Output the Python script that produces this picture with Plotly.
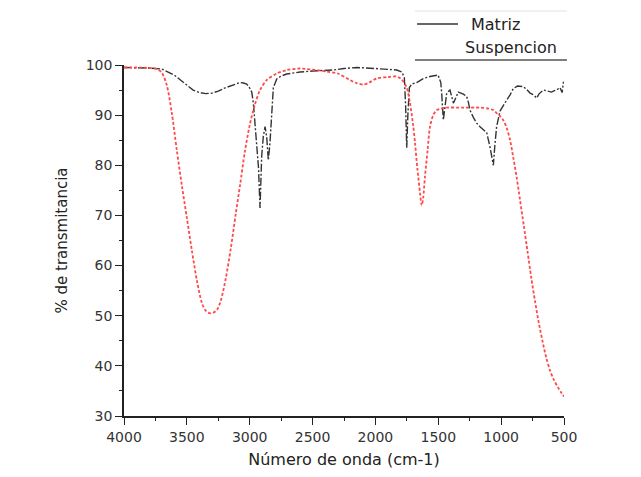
import plotly.graph_objects as go

# Matriz (black)
matriz_x = [4000, 3900, 3800, 3700, 3600, 3500, 3450, 3400, 3350, 3300, 3250, 3200, 3150, 3100, 3077,
            3050, 3024, 3000, 2984, 2971, 2955, 2944, 2930, 2918, 2910, 2905, 2892, 2878, 2865, 2852,
            2839, 2825, 2812, 2785, 2750, 2706, 2600, 2500, 2400, 2337, 2250, 2150, 2000, 1900, 1831,
            1790, 1770, 1760, 1751, 1742, 1730, 1711, 1672, 1620, 1566, 1502, 1480, 1473, 1460, 1450,
            1433, 1407, 1395, 1380, 1360, 1341, 1300, 1274, 1260, 1248, 1220, 1194, 1168, 1141, 1115,
            1089, 1075, 1062, 1050, 1036, 1009, 983, 956, 930, 903, 870, 824, 800, 770, 740, 717, 700,
            664, 630, 600, 585, 560, 532, 515, 505, 500]
matriz_y = [99.5, 99.5, 99.4, 99.2, 98.0, 96.0, 95.0, 94.5, 94.3, 94.4, 94.8, 95.4, 95.9, 96.3, 96.5,
            96.4, 96.2, 95.4, 94.6, 92.4, 88.0, 83.7, 79.5, 71.5, 78.0, 81.7, 85.7, 87.7, 85.7, 81.0,
            84.4, 91.0, 95.5, 97.2, 97.8, 98.2, 98.6, 98.8, 98.9, 99.0, 99.3, 99.5, 99.3, 99.1, 99.0,
            98.6, 97.5, 92.0, 83.5, 90.0, 95.5, 96.2, 96.5, 97.3, 97.7, 98.0, 96.5, 94.4, 89.0, 91.0,
            94.4, 95.0, 94.0, 92.4, 93.5, 94.6, 94.2, 93.7, 92.5, 91.0, 89.5, 88.4, 87.7, 87.0, 86.5,
            83.7, 82.0, 80.0, 84.0, 87.7, 90.8, 92.0, 93.0, 94.0, 95.3, 95.8, 95.7, 95.2, 94.4, 94.0, 93.4, 94.2,
            95.0, 94.8, 94.6, 94.8, 95.0, 95.5, 94.5, 96.5, 96.5]

# Suspencion (red)
susp_x = [4000, 3900, 3800, 3740, 3700, 3660, 3620, 3580, 3540, 3500, 3460, 3420, 3380,
          3350, 3320, 3290, 3260, 3230, 3190, 3150, 3110, 3077, 3040, 3000, 2960, 2918,
          2865, 2785, 2706, 2600, 2547, 2388, 2300, 2202, 2150, 2096, 2050, 1990, 1900, 1831, 1800,
          1778, 1751, 1725, 1700, 1685, 1665, 1645, 1632, 1620, 1606, 1585, 1566, 1540, 1513, 1480,
          1433, 1300, 1168, 1100, 1062, 1036, 1009, 983, 956, 929, 903, 876, 850, 820, 790, 760,
          730, 700, 670, 640, 610, 580, 550, 520, 500]
susp_y = [99.5, 99.5, 99.4, 99.2, 98.5, 96.0, 90.5, 83.0, 76.0, 69.5, 63.0, 57.0, 52.5,
          51.0, 50.5, 50.6, 51.2, 53.0, 57.5, 63.5, 70.5, 76.0, 82.5, 88.0, 92.0, 95.0,
          97.0, 98.3, 99.0, 99.3, 99.2, 98.7, 98.3, 97.0, 96.4, 96.1, 96.5, 97.3, 97.6, 97.7, 97.3,
          96.7, 95.5, 92.4, 88.0, 84.4, 79.0, 74.4, 72.0, 73.5, 77.7, 83.0, 87.7, 90.0, 91.0, 91.3,
          91.5, 91.5, 91.5, 91.3, 91.0, 90.4, 89.8, 89.0, 87.5, 85.0, 81.5, 77.5, 73.1, 68.0, 62.8, 57.5,
          52.8, 48.5, 44.8, 41.5, 39.0, 37.2, 35.8, 34.6, 33.9]

x_ticks = [4000, 3500, 3000, 2500, 2000, 1500, 1000, 500]
y_ticks = [30, 40, 50, 60, 70, 80, 90, 100]

FONT = "DejaVu Sans"

fig = go.Figure()
fig.add_trace(go.Scatter(x=matriz_x, y=matriz_y, mode="lines", name="Matriz",
                         line=dict(color="#333333", width=1.4, dash="8px,2px,2px,2px")))
fig.add_trace(go.Scatter(x=susp_x, y=susp_y, mode="lines", name="Suspencion",
                         line=dict(color="#ff4a4a", width=1.8, dash="3px,2px",
                                   shape="spline", smoothing=0.8)))

axis_common = dict(showgrid=False, zeroline=False, showline=True, linecolor="#222222", linewidth=1.5,
                   ticks="outside", ticklen=7, tickwidth=1.3, tickcolor="#222222",
                   tickfont=dict(family=FONT, size=14, color="#333333"))
fig.update_xaxes(range=[4000, 500], tickvals=x_ticks, **axis_common,
                 minor=dict(ticks="outside", dtick=250, ticklen=3, tickcolor="#222222"),
                 title=dict(text="Número de onda (cm-1)", font=dict(family=FONT, size=16, color="#222222"),
                            standoff=10))
fig.update_yaxes(range=[30, 100], tickvals=y_ticks, **axis_common,
                 minor=dict(ticks="outside", dtick=5, ticklen=3, tickcolor="#222222"),
                 title=dict(text="% de transmitancia", font=dict(family=FONT, size=15, color="#222222"),
                            standoff=14))

# legend drawn manually
fig.add_shape(type="line", xref="paper", yref="paper", x0=0.6614, x1=1.0068, y0=1.1538, y1=1.1538,
              line=dict(color="#e2e2e2", width=1))
fig.add_shape(type="line", xref="paper", yref="paper", x0=0.666, x1=0.759, y0=1.1168, y1=1.1168,
              line=dict(color="#333333", width=1.5))
fig.add_shape(type="line", xref="paper", yref="paper", x0=0.6614, x1=1.0068, y0=1.0142, y1=1.0142,
              line=dict(color="#555555", width=1.6))
fig.add_annotation(xref="paper", yref="paper", x=0.784, y=1.114, text="Matriz", showarrow=False,
                   xanchor="left", yanchor="middle", font=dict(family=FONT, size=16, color="#222222"))
fig.add_annotation(xref="paper", yref="paper", x=0.7705, y=1.051, text="Suspencion", showarrow=False,
                   xanchor="left", yanchor="middle", font=dict(family=FONT, size=16, color="#222222"))

fig.update_layout(width=641, height=477, showlegend=False,
                  margin=dict(l=116, r=85, t=57, b=69),
                  paper_bgcolor="white", plot_bgcolor="white")
fig.write_html("out.html")
